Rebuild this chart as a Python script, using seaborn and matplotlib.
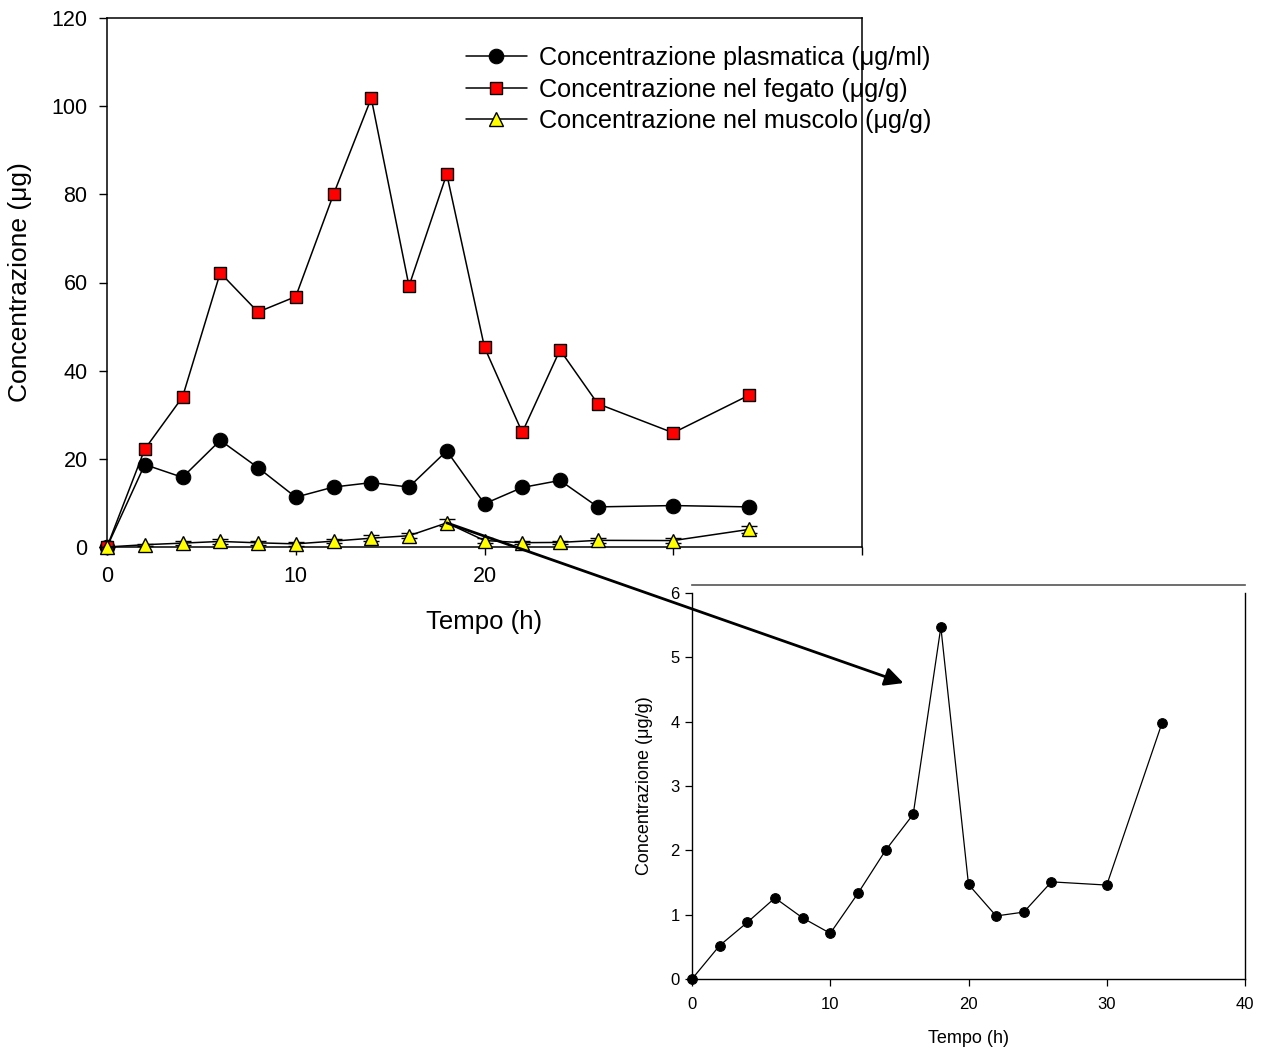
import matplotlib
matplotlib.use("Agg")
import matplotlib.pyplot as plt
import seaborn as sns
import numpy as np
from matplotlib.patches import ConnectionPatch

# ---- data ----
tempo = [0, 2, 4, 6, 8, 10, 12, 14, 16, 18, 20, 22, 24, 26, 30, 34]
plasma = [0, 18.7, 15.8, 24.2, 18.0, 11.3, 13.6, 14.6, 13.6, 21.8, 9.8, 13.5, 15.1, 9.1, 9.4, 9.1]
fegato = [0, 22.2, 34.0, 62.2, 53.3, 56.8, 80.0, 101.8, 59.2, 84.6, 45.3, 26.0, 44.7, 32.5, 25.9, 34.4]
muscolo = [0, 0.52, 0.88, 1.26, 0.95, 0.71, 1.33, 2.0, 2.56, 5.47, 1.47, 0.98, 1.04, 1.51, 1.46, 3.98]
muscolo_sd = [0, 0.2, 0.5, 0.6, 0.5, 0.4, 0.5, 0.7, 0.6, 0.8, 0.5, 0.4, 0.4, 0.5, 0.5, 0.7]

labels = ["Concentrazione plasmatica (\u03bcg/ml)",
          "Concentrazione nel fegato (\u03bcg/g)",
          "Concentrazione nel muscolo (\u03bcg/g)"]
main_xticks = [0, 10, 20, 30, 40]
main_xticklabels = ["0", "10", "20", "", ""]
main_yticks = [0, 20, 40, 60, 80, 100, 120]
inset_xticks = [0, 10, 20, 30, 40]
inset_yticks = [0, 1, 2, 3, 4, 5, 6]

sns.set_theme(style="ticks")
plt.rcParams['font.family'] = ['Liberation Sans', 'DejaVu Sans']
plt.rcParams['text.color'] = 'black'
plt.rcParams['axes.labelcolor'] = 'black'

W, H = 1269, 1052
fig = plt.figure(figsize=(W / 100, H / 100), dpi=100)

# ---- main axes ----
ax = fig.add_axes([107 / W, 1 - 547 / H, 755 / W, 529 / H])
sns.lineplot(x=tempo, y=plasma, ax=ax, color='black', lw=1.1, marker='o',
             markersize=10.5, markerfacecolor='black', markeredgecolor='black',
             label=labels[0], zorder=3, clip_on=False)
sns.lineplot(x=tempo, y=fegato, ax=ax, color='black', lw=1.1, marker='s',
             markersize=8.6, markerfacecolor='#ff0000', markeredgecolor='black',
             markeredgewidth=1.0, label=labels[1], zorder=3, clip_on=False)
ax.errorbar(tempo, muscolo, yerr=muscolo_sd, fmt='none', ecolor='black',
            elinewidth=1.0, capsize=5.5, capthick=1.0, zorder=3, clip_on=False)
sns.lineplot(x=tempo, y=muscolo, ax=ax, color='black', lw=1.1, marker='^',
             markersize=9.5, markerfacecolor='#ffff00', markeredgecolor='black',
             markeredgewidth=1.0, label=labels[2], zorder=4, clip_on=False)

ax.set_xlim(0, 40)
ax.set_ylim(0, 120)
ax.set_xticks(main_xticks)
ax.set_xticklabels(main_xticklabels)
ax.set_yticks(main_yticks)
ax.tick_params(direction='out', length=6, width=1.0, labelsize=15.5, colors='black')
ax.tick_params(axis='x', pad=8)
ax.tick_params(axis='y', pad=8)
for s in ['left', 'bottom', 'top', 'right']:
    ax.spines[s].set_visible(True)
    ax.spines[s].set_color('black')
    ax.spines[s].set_linewidth(1.1)
ax.set_xlabel("Tempo (h)", fontsize=18.5, labelpad=16)
ax.set_ylabel("Concentrazione (\u03bcg)", fontsize=19, labelpad=14)
ax.set_facecolor('none')
ax.grid(False)

leg = ax.legend(loc='upper left', bbox_to_anchor=(466 / W, 1 - 46 / H),
                bbox_transform=fig.transFigure, frameon=False, fontsize=18.2,
                handlelength=2.4, handletextpad=0.5, labelspacing=0.3,
                borderpad=0, borderaxespad=0)
for t in leg.get_texts():
    t.set_color('black')

# ---- inset axes ----
narrow = ['Liberation Sans Narrow', 'Liberation Sans', 'DejaVu Sans']
ax2 = fig.add_axes([692 / W, 1 - 979 / H, 553 / W, 386 / H])
ax2.set_facecolor('white')
sns.lineplot(x=tempo, y=muscolo, ax=ax2, color='black', lw=0.9, marker='o',
             markersize=7, markerfacecolor='black', markeredgecolor='black',
             zorder=3, clip_on=False)
ax2.set_xlim(0, 40)
ax2.set_ylim(0, 6)
ax2.set_xticks(inset_xticks)
ax2.set_yticks(inset_yticks)
ax2.tick_params(direction='out', length=5, width=0.9, labelsize=12, colors='black')
ax2.tick_params(axis='x', pad=8)
ax2.tick_params(axis='y', pad=4)
for lab in ax2.get_xticklabels() + ax2.get_yticklabels():
    lab.set_family(narrow)
for s in ['left', 'bottom', 'right']:
    ax2.spines[s].set_visible(True)
    ax2.spines[s].set_color('black')
    ax2.spines[s].set_linewidth(1.0)
ax2.spines['top'].set_visible(True)
ax2.spines['top'].set_color('#555555')
ax2.spines['top'].set_linewidth(1.2)
ax2.spines['top'].set_position(('outward', 6))
ax2.set_xlabel("Tempo (h)", fontsize=13, labelpad=13, family=narrow)
ax2.set_ylabel("Concentrazione (\u03bcg/g)", fontsize=13, labelpad=12, family=narrow)
ax2.grid(False)

# ---- arrow linking the muscle peak to the inset ----
con = ConnectionPatch(xyA=(tempo[9], muscolo[9]), coordsA=ax.transData,
                      xyB=(15.3, 4.6), coordsB=ax2.transData,
                      arrowstyle='-|>', mutation_scale=28, lw=2.0,
                      color='black', zorder=10)
fig.add_artist(con)

fig.savefig("out.png", dpi=100, facecolor='white')
